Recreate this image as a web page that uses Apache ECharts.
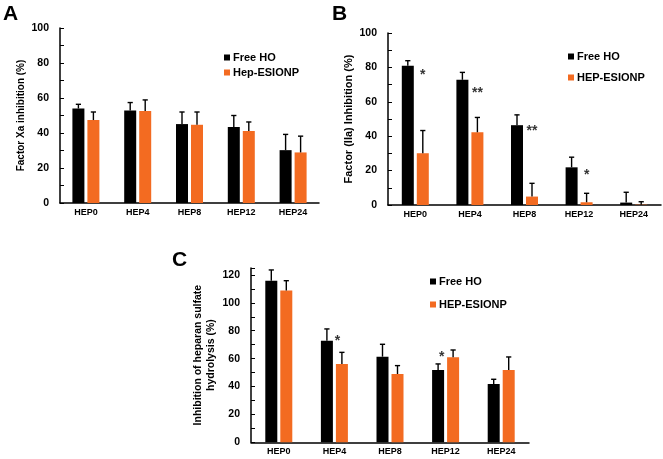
<!DOCTYPE html>
<html>
<head>
<meta charset="utf-8">
<script src="https://cdn.jsdelivr.net/npm/echarts@6/dist/echarts.min.js"></script>
<style>html,body{margin:0;padding:0;background:#fff}#c{width:663px;height:459px}</style>
</head>
<body>
<div id="c"></div>
<script>
// ---- data ----
const categories = ['HEP0', 'HEP4', 'HEP8', 'HEP12', 'HEP24'];

const freeA = [54.0, 52.8, 45.1, 43.4, 30.2];
const freeAErr = [2.4, 4.6, 6.9, 6.6, 9.0];
const hepA = [47.4, 52.6, 44.7, 41.1, 28.9];
const hepAErr = [4.6, 6.3, 7.3, 5.2, 9.3];

const freeB = [81.0, 72.8, 46.4, 21.9, 1.4];
const freeBErr = [2.9, 4.3, 6.0, 5.9, 6.0];
const hepB = [30.1, 42.3, 4.9, 1.6, 0.2];
const hepBErr = [13.2, 8.6, 7.7, 5.2, 1.7];

const freeC = [115.9, 72.9, 61.4, 51.9, 41.8];
const freeCErr = [7.7, 8.4, 8.9, 4.3, 3.4];
const hepC = [108.8, 56.2, 49.0, 61.0, 51.9];
const hepCErr = [7.1, 8.3, 6.0, 5.2, 9.3];

// significance marks: [category index, y value, text]
const sigB = [[0, 77.5, '*'], [1, 66.5, '**'], [2, 44.6, '**'], [3, 19.0, '*']];
const sigC = [[1, 74.6, '*'], [3, 63.0, '*']];

// ---- styles ----
const FONT = 'Liberation Sans, Arial, sans-serif';
const BLACK = '#000000';
const ORANGE = '#f36b21';
const BW = 12;
const HALF = 7.5;

function yAxis(gi, max, name, gap, nameSize) {
  return {
    gridIndex: gi, type: 'value', min: 0, max: max, interval: 20,
    axisLine: { show: true, lineStyle: { color: BLACK, width: 1.5 } },
    axisTick: { show: true, inside: true, length: 4, lineStyle: { color: BLACK, width: 1 } },
    minorTick: { show: true, splitNumber: 2, length: 4, lineStyle: { color: BLACK, width: 1 } },
    splitLine: { show: false },
    axisLabel: { color: BLACK, fontFamily: FONT, fontWeight: 'bold', fontSize: 10.5, margin: 11, showMaxLabel: max % 20 === 0 },
    name: name, nameLocation: 'middle', nameGap: gap,
    nameTextStyle: { color: BLACK, fontFamily: FONT, fontWeight: 'bold', fontSize: nameSize, lineHeight: 12.5 }
  };
}
function xAxis(gi) {
  return {
    gridIndex: gi, type: 'category', data: categories,
    axisLine: { show: true, lineStyle: { color: BLACK, width: 1.5 } },
    axisTick: { show: false },
    axisLabel: { color: BLACK, fontFamily: FONT, fontWeight: 'bold', fontSize: 9, margin: 5 }
  };
}
function bar(gi, name, vals, color) {
  return {
    type: 'bar', name: name, xAxisIndex: gi, yAxisIndex: gi, data: vals,
    barWidth: BW, barGap: '25%', itemStyle: { color: color }, silent: true
  };
}
function err(gi, vals, errs, side) {
  return {
    type: 'custom', name: 'err' + gi + side, xAxisIndex: gi, yAxisIndex: gi, z: 5, silent: true,
    data: vals.map((v, i) => [i, v, errs[i]]),
    renderItem: function (params, api) {
      const i = api.value(0), v = api.value(1), e = api.value(2);
      const b = api.coord([i, v]);
      const t = api.coord([i, v + e]);
      const cx = b[0] + side * HALF;
      const st = { stroke: BLACK, lineWidth: 1.4 };
      return {
        type: 'group', children: [
          { type: 'line', shape: { x1: cx, y1: b[1], x2: cx, y2: t[1] }, style: st },
          { type: 'line', shape: { x1: cx - 2.6, y1: t[1], x2: cx + 2.6, y2: t[1] }, style: st }
        ]
      };
    }
  };
}
function sig(gi, list, offsets) {
  return {
    type: 'scatter', name: 'sig' + gi, xAxisIndex: gi, yAxisIndex: gi, symbolSize: 0, silent: true, z: 6,
    data: list.map((s, k) => ({
      value: [s[0], s[1]],
      label: { show: true, formatter: s[2], position: 'inside', offset: [offsets[k], 3],
        color: BLACK, fontFamily: FONT, fontWeight: 'bold', fontSize: 14 }
    }))
  };
}
function legend(left, top, gap, names) {
  return {
    left: left, top: top, orient: 'vertical', itemGap: gap, itemWidth: 6, itemHeight: 6, icon: 'rect',
    selectedMode: false, data: names, padding: 0,
    textStyle: { color: BLACK, fontFamily: FONT, fontWeight: 'bold', fontSize: 11, padding: [0, 0, 0, -2] }
  };
}

const chart = echarts.init(document.getElementById('c'), null, { renderer: 'canvas' });
chart.setOption({
  animation: false,
  backgroundColor: '#ffffff',
  grid: [
    { left: 60, top: 28, width: 259, height: 175 },
    { left: 388, top: 33, width: 273, height: 172 },
    { left: 251, top: 268, width: 278, height: 174.3 }
  ],
  xAxis: [xAxis(0), xAxis(1), xAxis(2)],
  yAxis: [
    yAxis(0, 100, 'Factor Xa inhibition (%)', 32, 10),
    yAxis(1, 100, 'Factor (IIa) Inhibition (%)', 30, 11),
    yAxis(2, 125, 'Inhibition of heparan sulfate\nhydrolysis (%)', 34, 10.5)
  ],
  legend: [
    legend(224, 52, 4, ['Free HO', 'Hep-ESIONP']),
    legend(568, 51, 10, ['Free HO', 'HEP-ESIONP']),
    legend(430, 276, 12, ['Free HO', 'HEP-ESIONP'])
  ],
  graphic: [
    { type: 'text', left: 3, top: 4, style: { text: 'A', font: 'bold 21px ' + FONT, fill: BLACK } },
    { type: 'text', left: 332, top: 4, style: { text: 'B', font: 'bold 21px ' + FONT, fill: BLACK } },
    { type: 'text', left: 172, top: 250, style: { text: 'C', font: 'bold 21px ' + FONT, fill: BLACK } }
  ],
  series: [
    bar(0, 'Free HO', freeA, BLACK), bar(0, 'Hep-ESIONP', hepA, ORANGE),
    err(0, freeA, freeAErr, -1), err(0, hepA, hepAErr, 1),
    bar(1, 'Free HO', freeB, BLACK), bar(1, 'HEP-ESIONP', hepB, ORANGE),
    err(1, freeB, freeBErr, -1), err(1, hepB, hepBErr, 1),
    sig(1, sigB, [7.5, 7.5, 7.5, 7.5]),
    bar(2, 'Free HO', freeC, BLACK), bar(2, 'HEP-ESIONP', hepC, ORANGE),
    err(2, freeC, freeCErr, -1), err(2, hepC, hepCErr, 1),
    sig(2, sigC, [3, -4])
  ]
});
</script>
</body>
</html>
